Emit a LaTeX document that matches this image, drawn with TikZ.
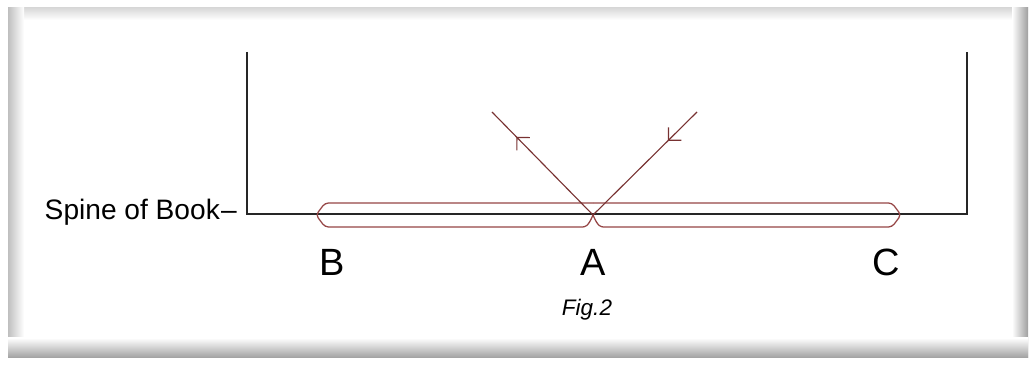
\documentclass[tikz,border=0pt]{standalone}
\usepackage{fontspec}
\setmainfont{Liberation Sans}
\usetikzlibrary{positioning}
\usetikzlibrary{calc}
\usetikzlibrary{decorations.markings}
\usetikzlibrary{arrows.meta}

\definecolor{raybrown}{RGB}{120,50,50}
\definecolor{capsred}{RGB}{150,70,70}

\begin{document}
\begin{tikzpicture}[x=0.025cm, y=-0.025cm,
    spine/.style={black!85, line width=1.1pt},
    capsule/.style={capsred, line width=0.9pt, rounded corners=2.5},
    ray/.style={raybrown, line width=0.8pt},
    letter/.style={font=\fontsize{27}{30}\selectfont},
    midarrow/.style={postaction={decorate},
      decoration={markings, mark=at position #1 with {\arrow{Straight Barb[length=6.5pt,width=13pt]}}}}
  ]
    \useasboundingbox (0,0) rectangle (1033,365);

    % Bevelled frame
    \fill[white] (8,8) rectangle (1028,358);
    \shade[top color=gray!30, bottom color=white] (8,8) rectangle (1028,20);
    \shade[left color=gray!50, right color=white] (8,8) rectangle (24,345);
    \shade[left color=white, right color=gray!75] (1012,8) rectangle (1028,358);
    \shade[top color=white, bottom color=gray!75] (8,338) rectangle (1028,358);

    % Book outline
    \coordinate (topL) at (247,52);
    \coordinate (spineL) at (247,214);
    \coordinate (spineR) at (967,214);
    \coordinate (topR) at (967,52);
    \draw[spine] (topL) -- (spineL) -- (spineR) -- (topR);

    \node[anchor=east, inner sep=2pt, font=\fontsize{20}{23}\selectfont] (spinelbl) at (240,212) {Spine of Book\kern1pt–};

    % Capsules either side of A
    \coordinate (A) at (593,215);
    \draw[capsule] (A) .. controls (588,227) and (585,227) .. (578,227)
      -- (325,227) -- (316,215) -- (325,203) -- (593,203);
    \draw[capsule] (A) .. controls (598,227) and (601,227) .. (608,227)
      -- (892,227) -- (901,215) -- (892,203) -- (593,203);

    % Rays
    \coordinate (rayin) at (697,112);
    \coordinate (rayout) at (492,112);
    \draw[ray, midarrow=0.28] (rayin) -- (A);
    \draw[ray, midarrow=0.76] (A) -- (rayout);

    % Labels
    \node[letter] (B) at (332,262) {B};
    \node[letter] (Albl) at (593,262) {A};
    \node[letter] (C) at (886,262) {C};
    \node[font=\itshape\fontsize{16}{18}\selectfont] (figlbl) at (587,310) {Fig.2};
\end{tikzpicture}
\end{document}
